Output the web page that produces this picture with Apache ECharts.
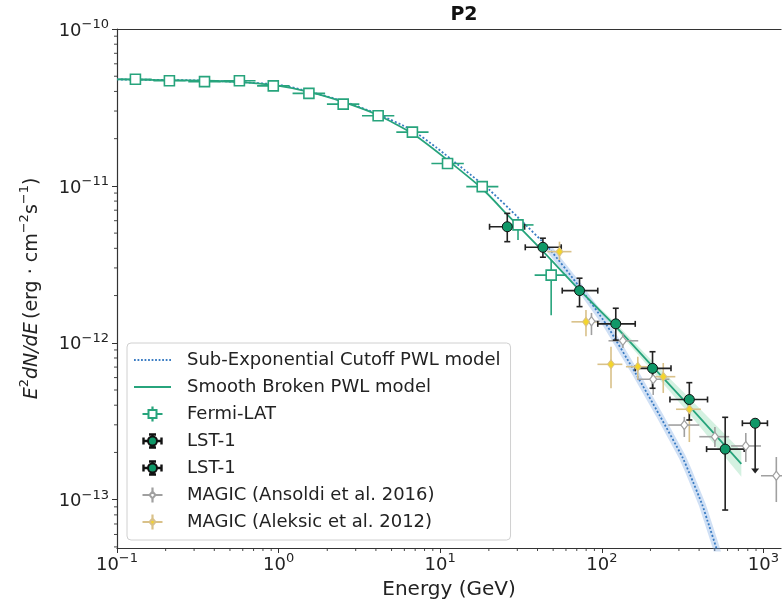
<!DOCTYPE html>
<html><head><meta charset="utf-8">
<script src="https://cdn.jsdelivr.net/npm/echarts@6/dist/echarts.min.js"></script>
<style>html,body{margin:0;padding:0;background:#fff}#c{width:782px;height:606px}</style>
</head><body><div id="c"></div>
<script>
// ---------------- data (E in GeV, E^2 dN/dE in erg cm^-2 s^-1) ----------------
const xTickLabels = [0.1, 1, 10, 100, 1000];
const yTickLabels = [1e-13, 1e-12, 1e-11, 1e-10];

const fermiE   = [0.130, 0.211, 0.348, 0.572, 0.927, 1.54, 2.51, 4.13, 6.73, 11.1, 18.2, 30.3, 48.6];
const fermiElo = [0.103, 0.168, 0.276, 0.454, 0.736, 1.22, 1.99, 3.28, 5.35, 8.82, 14.5, 24.3, 38.4];
const fermiEhi = [0.164, 0.266, 0.438, 0.720, 1.17, 1.94, 3.16, 5.20, 8.47, 14.0, 22.9, 37.8, 60.4];
const fermiF   = [4.78e-11, 4.68e-11, 4.62e-11, 4.68e-11, 4.34e-11, 3.89e-11, 3.32e-11, 2.80e-11, 2.20e-11, 1.39e-11, 9.89e-12, 5.64e-12, 2.70e-12];
const fermiFlo = [4.65e-11, 4.56e-11, 4.50e-11, 4.55e-11, 4.22e-11, 3.78e-11, 3.22e-11, 2.70e-11, 2.11e-11, 1.32e-11, 9.30e-12, 4.52e-12, 1.50e-12];
const fermiFhi = [4.91e-11, 4.80e-11, 4.74e-11, 4.81e-11, 4.46e-11, 4.00e-11, 3.42e-11, 2.90e-11, 2.29e-11, 1.46e-11, 1.05e-11, 6.20e-12, 3.37e-12];

const lstE   = [26.0, 43.2, 72.8, 122, 206, 348, 580];
const lstElo = [20.2, 33.6, 56.9, 94.4, 161, 264, 445];
const lstEhi = [33.3, 56.1, 94.4, 161, 268, 451, 760];
const lstF   = [5.49e-12, 4.06e-12, 2.15e-12, 1.32e-12, 6.87e-13, 4.35e-13, 2.10e-13];
const lstFlo = [4.41e-12, 3.51e-12, 1.70e-12, 1.04e-12, 5.13e-13, 3.22e-13, 8.59e-14];
const lstFhi = [6.68e-12, 4.64e-12, 2.58e-12, 1.66e-12, 8.77e-13, 5.57e-13, 3.35e-13];

// LST-1 upper limit
const lstUlE   = [889];
const lstUlElo = [741];
const lstUlEhi = [1059];
const lstUlF   = [3.07e-13];
const lstUlTo  = [1.47e-13];

const ansE   = [86.3, 135, 208, 324, 501, 778, 1202];
const ansElo = [77, 110, 166, 258, 401, 631, 966];
const ansEhi = [97, 168, 262, 401, 614, 966, 1550];
const ansF   = [1.37e-12, 1.03e-12, 5.85e-13, 2.99e-13, 2.52e-13, 2.20e-13, 1.42e-13];
const ansFlo = [1.12e-12, 9.27e-13, 4.65e-13, 2.51e-13, 2.17e-13, 1.74e-13, 9.66e-14];
const ansFhi = [1.55e-12, 1.15e-12, 6.43e-13, 3.37e-13, 2.91e-13, 2.66e-13, 1.87e-13];

const aleE   = [54.7, 79.8, 114, 167, 240, 348];
const aleElo = [46.1, 64.9, 94.0, 141, 214, 288];
const aleEhi = [64.9, 96.4, 134, 191, 285, 410];
const aleF   = [3.81e-12, 1.36e-12, 7.29e-13, 7.04e-13, 6.08e-13, 3.77e-13];
const aleFlo = [3.37e-12, 1.10e-12, 5.13e-13, 5.79e-13, 4.79e-13, 2.33e-13];
const aleFhi = [4.41e-12, 1.62e-12, 9.44e-13, 8.15e-13, 7.43e-13, 4.45e-13];

const secplE = [0.1, 0.327, 0.578, 1.02, 1.54, 2.50, 4.11, 6.67, 9.51, 14.2, 20.2, 29.7, 47.4, 72.7, 107, 164, 227, 315, 348, 419, 449, 511, 573];
const secplF = [4.77e-11, 4.70e-11, 4.59e-11, 4.40e-11, 4.00e-11, 3.47e-11, 2.87e-11, 2.27e-11, 1.75e-11, 1.26e-11, 9.41e-12, 6.43e-12, 3.96e-12, 2.27e-12, 1.30e-12, 6.24e-13, 3.47e-13, 1.87e-13, 1.48e-13, 9.25e-14, 7.43e-14, 4.92e-14, 3.17e-14];

const sbpE = [0.1, 0.213, 0.351, 0.578, 0.924, 1.54, 2.50, 4.11, 6.67, 11.1, 18.3, 26.1, 43.0, 72.7, 123, 205, 348, 730];
const sbpF = [4.77e-11, 4.72e-11, 4.68e-11, 4.59e-11, 4.40e-11, 3.97e-11, 3.43e-11, 2.83e-11, 2.17e-11, 1.46e-11, 9.55e-12, 6.53e-12, 3.85e-12, 2.17e-12, 1.26e-12, 7.11e-13, 3.95e-13, 1.69e-13];

const sbpBandE  = [83.8, 123, 205, 348, 730];
const sbpBandLo = [1.82e-12, 1.21e-12, 6.61e-13, 3.52e-13, 1.40e-13];
const sbpBandHi = [1.93e-12, 1.32e-12, 7.65e-13, 4.45e-13, 2.04e-13];

const names = ['Sub-Exponential Cutoff PWL model', 'Smooth Broken PWL model', 'Fermi-LAT', 'LST-1', 'LST-1 ',
               'MAGIC (Ansoldi et al. 2016)', 'MAGIC (Aleksic et al. 2012)'];

// ---------------- styling ----------------
const FONT = 'DejaVu Sans';
const X_MIN = 0.1, X_MAX = Math.pow(10, 3.109);
const Y_MIN = Math.pow(10, -13.308), Y_MAX = 1e-10;
const C_GREEN = '#27a47c', C_LST = '#0f9868', C_BLUE = '#3a7cc3', C_GRAY = '#a0a0a0', C_YEL = '#f3d52c', C_YELBAR = '#d9c189';

function isPow10(v) { const e = Math.log10(v); return Math.abs(e - Math.round(e)) < 1e-6 ? Math.round(e) : null; }
function powLabel(v) {
  const e = isPow10(v);
  if (e === null) return '';
  return '{b|10}{s|' + (e < 0 ? '\u2212' : '') + Math.abs(e) + '}';
}
const labelRich = {
  b: { fontSize: 18, fontFamily: FONT, color: '#222', lineHeight: 22, verticalAlign: 'bottom' },
  s: { fontSize: 13, fontFamily: FONT, color: '#222', lineHeight: 14, verticalAlign: 'top' }
};

// legend icon paths (bounding box 37 x 14, centre 18.5,7)
const BOX = 'M0,0L0,0M37,14L37,14';
const R = (x, y, w, h) => 'M' + x + ',' + y + 'h' + w + 'v' + h + 'h' + (-w) + 'z';
let dots = '';
for (let x = 0; x < 37; x += 3.6) dots += R(x.toFixed(1), 6.1, 1.8, 1.8);
const ICON_DOTTED = 'path://' + BOX + dots;
const ICON_SOLID = 'path://' + BOX + R(0, 6, 37, 2);
const ARMS_T = (a, b) => R(9.5, 6.9, a, 0.2) + R(27.5 - a, 6.9, a, 0.2) + R(18.4, 0.5, 0.2, b) + R(18.4, 13.5 - b, 0.2, b);
const ICON_SQUARE = 'path://' + BOX + R(14.5, 3, 8, 8) + ARMS_T(5, 2.5);
const ICON_CIRCLE = 'path://' + BOX + 'M23,7A4.5,4.5 0 1 1 14,7A4.5,4.5 0 1 1 23,7z' +
  R(9.5, 6.8, 4.5, 0.4) + R(23, 6.8, 4.5, 0.4) + R(18.3, 0.5, 0.4, 2) + R(18.3, 11.5, 0.4, 2) +
  R(9.3, 4.5, 0.4, 5) + R(27.3, 4.5, 0.4, 5) + R(16, 0.3, 5, 0.4) + R(16, 13.3, 5, 0.4);
const ICON_DIAMOND = 'path://' + BOX + 'M18.5,3.5L21.5,7L18.5,10.5L15.5,7z' + ARMS_T(6, 3);

function errBars(E, Elo, Ehi, F, Flo, Fhi, color, cap, z) {
  return {
    type: 'custom', silent: true, z: z, clip: false,
    data: E.map((e, i) => [e, F[i], Elo[i], Ehi[i], Flo[i], Fhi[i]]),
    encode: { x: [0, 2, 3], y: [1, 4, 5] },
    renderItem(params, api) {
      const l = api.coord([api.value(2), api.value(1)]);
      const r = api.coord([api.value(3), api.value(1)]);
      const t = api.coord([api.value(0), api.value(5)]);
      const b = api.coord([api.value(0), api.value(4)]);
      const st = { stroke: color, lineWidth: 1.6 };
      const ch = [
        { type: 'line', shape: { x1: l[0], y1: l[1], x2: r[0], y2: r[1] }, style: st },
        { type: 'line', shape: { x1: t[0], y1: t[1], x2: b[0], y2: b[1] }, style: st }
      ];
      if (cap) {
        ch.push({ type: 'line', shape: { x1: l[0], y1: l[1] - cap, x2: l[0], y2: l[1] + cap }, style: st });
        ch.push({ type: 'line', shape: { x1: r[0], y1: r[1] - cap, x2: r[0], y2: r[1] + cap }, style: st });
        ch.push({ type: 'line', shape: { x1: t[0] - cap, y1: t[1], x2: t[0] + cap, y2: t[1] }, style: st });
        ch.push({ type: 'line', shape: { x1: b[0] - cap, y1: b[1], x2: b[0] + cap, y2: b[1] }, style: st });
      }
      return { type: 'group', children: ch };
    }
  };
}

// minor tick positions (axis decoration)
const xMinor = [], yMinor = [];
for (let k = -1; k <= 3; k++) for (let m = 2; m <= 9; m++) { const v = m * Math.pow(10, k); if (v < X_MAX) xMinor.push(v); }
for (let k = -14; k <= -11; k++) for (let m = 2; m <= 9; m++) { const v = m * Math.pow(10, k); if (v > Y_MIN && v < Y_MAX) yMinor.push(v); }

const chart = echarts.init(document.getElementById('c'), null, { renderer: 'canvas' });
chart.setOption({
  animation: false,
  backgroundColor: '#fff',
  title: { text: 'P2', left: 459, top: 1, textAlign: 'center',
    textStyle: { fontSize: 19, fontWeight: 'bold', fontFamily: FONT, color: '#111' } },
  grid: { left: 117, top: 29, right: 0, bottom: 58, containLabel: false },
  xAxis: [{
    type: 'log', logBase: 10, min: X_MIN, max: X_MAX,
    name: 'Energy (GeV)', nameLocation: 'middle', nameGap: 32,
    nameTextStyle: { fontSize: 20, fontFamily: FONT, color: '#222', align: 'center' },
    axisLine: { show: true, lineStyle: { color: '#333', width: 1.2 } },
    axisTick: { show: true, inside: false, length: 5, lineStyle: { color: '#333', width: 1 } },
    axisLabel: { formatter: powLabel, rich: labelRich, margin: 4, showMaxLabel: false, hideOverlap: false },
    splitLine: { show: false }
  }, {
    type: 'log', logBase: 10, min: X_MIN, max: X_MAX, position: 'top',
    axisLine: { show: true, lineStyle: { color: '#333', width: 1.2 } },
    axisTick: { show: false }, axisLabel: { show: false }, splitLine: { show: false }
  }],
  yAxis: [{
    type: 'log', logBase: 10, min: Y_MIN, max: Y_MAX,
    name: '{i|E}{sup|2}{i|dN/dE} {n|(erg \u00b7 cm}{sup|\u22122}{n|s}{sup|\u22121}{n|)}',
    nameLocation: 'middle', nameGap: 75, nameRotate: 90,
    nameTextStyle: { rich: {
      i: { fontSize: 19, fontStyle: 'italic', fontFamily: FONT, color: '#222', lineHeight: 24, verticalAlign: 'bottom' },
      n: { fontSize: 19, fontFamily: FONT, color: '#222', lineHeight: 24, verticalAlign: 'bottom' },
      sup: { fontSize: 13, fontFamily: FONT, color: '#222', lineHeight: 13, verticalAlign: 'top' }
    } },
    axisLine: { show: true, lineStyle: { color: '#333', width: 1.2 } },
    axisTick: { show: true, inside: false, length: 5, lineStyle: { color: '#333', width: 1 } },
    axisLabel: { formatter: powLabel, rich: labelRich, margin: 8, showMinLabel: false },
    splitLine: { show: false }
  }],
  legend: {
    data: [
      { name: names[0], icon: ICON_DOTTED },
      { name: names[1], icon: ICON_SOLID },
      { name: names[2], icon: ICON_SQUARE },
      { name: names[3], icon: ICON_CIRCLE },
      { name: names[4], icon: ICON_CIRCLE },
      { name: names[5], icon: ICON_DIAMOND },
      { name: names[6], icon: ICON_DIAMOND }
    ],
    orient: 'vertical', left: 127, top: 343,
    padding: [7, 10, 8, 6], itemGap: 7, itemWidth: 37, itemHeight: 14, symbolKeepAspect: true,
    backgroundColor: 'rgba(255,255,255,0.85)', borderColor: '#d0d0d0', borderWidth: 1, borderRadius: 4,
    formatter: n => n.trim(),
    textStyle: { fontSize: 18, fontFamily: FONT, color: '#222', lineHeight: 20, padding: [0, 0, 0, 11] },
    selectedMode: false
  },
  series: [
    // minor ticks
    { type: 'custom', silent: true, clip: false, z: 1, data: xMinor.map(v => [v, Y_MIN]),
      renderItem(p, api) { const c = api.coord([api.value(0), Y_MIN]);
        return { type: 'line', shape: { x1: c[0], y1: c[1], x2: c[0], y2: c[1] + 3 }, style: { stroke: '#333', lineWidth: 0.9 } }; } },
    { type: 'custom', silent: true, clip: false, z: 1, data: yMinor.map(v => [X_MIN, v]),
      renderItem(p, api) { const c = api.coord([X_MIN, api.value(1)]);
        return { type: 'line', shape: { x1: c[0], y1: c[1], x2: c[0] - 3, y2: c[1] }, style: { stroke: '#333', lineWidth: 0.9 } }; } },
    // Smooth broken PWL uncertainty band
    { type: 'custom', silent: true, z: 2, data: [[sbpBandE[0], sbpBandLo[0]]],
      renderItem(p, api) {
        const pts = [];
        sbpBandE.forEach((e, i) => pts.push(api.coord([e, sbpBandHi[i]])));
        for (let i = sbpBandE.length - 1; i >= 0; i--) pts.push(api.coord([sbpBandE[i], sbpBandLo[i]]));
        return { type: 'polygon', shape: { points: pts }, style: { fill: 'rgba(60,190,120,0.22)' } };
      } },
    // Sub-exp cutoff band (thin)
    { type: 'line', silent: true, z: 2, symbol: 'none', smooth: false,
      data: secplE.map((e, i) => [e, secplF[i]]).filter(d => d[0] >= 40),
      lineStyle: { color: 'rgba(120,165,225,0.35)', width: 7 } },
    { name: names[0], type: 'line', z: 3, symbol: 'none', smooth: 0.2,
      data: secplE.map((e, i) => [e, secplF[i]]),
      lineStyle: { color: C_BLUE, width: 1.8, type: [2, 2] }, itemStyle: { color: C_BLUE } },
    { name: names[1], type: 'line', z: 3, symbol: 'none', smooth: 0.2,
      data: sbpE.map((e, i) => [e, sbpF[i]]),
      lineStyle: { color: C_GREEN, width: 1.8 }, itemStyle: { color: C_GREEN } },
    // error bars
    errBars(aleE, aleElo, aleEhi, aleF, aleFlo, aleFhi, C_YELBAR, 0, 4),
    errBars(ansE, ansElo, ansEhi, ansF, ansFlo, ansFhi, C_GRAY, 0, 4),
    errBars(fermiE, fermiElo, fermiEhi, fermiF, fermiFlo, fermiFhi, C_GREEN, 0, 4),
    errBars(lstE, lstElo, lstEhi, lstF, lstFlo, lstFhi, '#222', 3, 5),
    // LST-1 upper limit
    { type: 'custom', silent: true, z: 5, clip: false,
      data: lstUlE.map((e, i) => [e, lstUlF[i], lstUlElo[i], lstUlEhi[i], lstUlTo[i]]),
      encode: { x: [0, 2, 3], y: [1, 4] },
      renderItem(p, api) {
        const c = api.coord([api.value(0), api.value(1)]);
        const l = api.coord([api.value(2), api.value(1)]);
        const r = api.coord([api.value(3), api.value(1)]);
        const b = api.coord([api.value(0), api.value(4)]);
        const st = { stroke: '#222', lineWidth: 1.6 };
        return { type: 'group', children: [
          { type: 'line', shape: { x1: l[0], y1: l[1], x2: r[0], y2: r[1] }, style: st },
          { type: 'line', shape: { x1: l[0], y1: l[1] - 3, x2: l[0], y2: l[1] + 3 }, style: st },
          { type: 'line', shape: { x1: r[0], y1: r[1] - 3, x2: r[0], y2: r[1] + 3 }, style: st },
          { type: 'line', shape: { x1: c[0], y1: c[1], x2: b[0], y2: b[1] - 4 }, style: st },
          { type: 'polygon', shape: { points: [[b[0] - 4, b[1] - 5], [b[0] + 4, b[1] - 5], [b[0], b[1]]] }, style: { fill: '#222' } }
        ] };
      } },
    // markers
    { name: names[5], type: 'scatter', z: 6, symbol: 'diamond', symbolSize: [7, 9],
      data: ansE.map((e, i) => [e, ansF[i]]),
      itemStyle: { color: '#fff', borderColor: C_GRAY, borderWidth: 1.2, opacity: 1 } },
    { name: names[6], type: 'scatter', z: 6, symbol: 'diamond', symbolSize: [7, 9],
      data: aleE.map((e, i) => [e, aleF[i]]),
      itemStyle: { color: C_YEL, borderColor: C_YELBAR, borderWidth: 1, opacity: 1 } },
    { name: names[2], type: 'scatter', z: 6, symbol: 'rect', symbolSize: 10,
      data: fermiE.map((e, i) => [e, fermiF[i]]),
      itemStyle: { color: '#fff', borderColor: C_GREEN, borderWidth: 1.6, opacity: 1 } },
    { name: names[3], type: 'scatter', z: 7, symbol: 'circle', symbolSize: 10,
      data: lstE.map((e, i) => [e, lstF[i]]),
      itemStyle: { color: C_LST, borderColor: '#111', borderWidth: 1, opacity: 1 } },
    { name: names[4], type: 'scatter', z: 7, symbol: 'circle', symbolSize: 10,
      data: lstUlE.map((e, i) => [e, lstUlF[i]]),
      itemStyle: { color: C_LST, borderColor: '#111', borderWidth: 1, opacity: 1 } }
  ]
});
</script></body></html>
